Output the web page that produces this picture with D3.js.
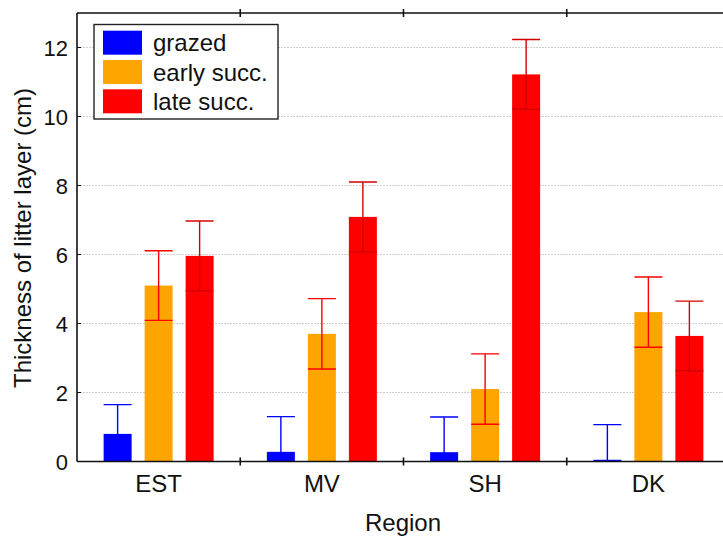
<!DOCTYPE html>
<html>
<head>
<meta charset="utf-8">
<script src="https://cdn.jsdelivr.net/npm/d3@7"></script>
<style>
  body { margin: 0; background: #fff; }
  svg { display: block; font-family: "Liberation Sans", Arial, sans-serif; }
</style>
</head>
<body>
<div id="chart"></div>
<script>
// data
const regions = ["EST", "MV", "SH", "DK"];
const seriesNames = ["grazed", "early succ.", "late succ."];
const grazed = [0.80, 0.28, 0.27, 0.05];
const grazedErr = [0.85, 1.02, 1.02, 1.02];
const early = [5.10, 3.70, 2.10, 4.33];
const earlyErr = [1.01, 1.02, 1.02, 1.02];
const late = [5.96, 7.09, 11.22, 3.64];
const lateErr = [1.01, 1.01, 1.01, 1.01];
const yTicks = [0, 2, 4, 6, 8, 10, 12];

// setting up constants
const FRAME_WIDTH = 723;
const FRAME_HEIGHT = 536;
const MARGINS = {left: 77, right: -7, top: 13, bottom: 74.5};

const FILL = ["#0000ff", "#ffa500", "#ff0000"];
const ERR_COLOR = ["#0000ff", "#ff0000", "#d40000"];

const svg = d3.select("#chart")
    .append("svg")
    .attr("width", FRAME_WIDTH)
    .attr("height", FRAME_HEIGHT);

const x = d3.scaleBand()
    .domain(regions)
    .range([MARGINS.left, FRAME_WIDTH - MARGINS.right]);

const xSub = d3.scaleBand()
    .domain(seriesNames)
    .range([x.bandwidth() / 2 - 68, x.bandwidth() / 2 + 68])
    .padding(13 / 41);

const y = d3.scaleLinear()
    .domain([0, 13])
    .range([FRAME_HEIGHT - MARGINS.bottom, MARGINS.top]);

// clip for error bars that go below zero
svg.append("clipPath").attr("id", "plotclip")
  .append("rect")
    .attr("x", MARGINS.left)
    .attr("y", MARGINS.top)
    .attr("width", FRAME_WIDTH)
    .attr("height", y(0) - MARGINS.top);

// dotted grid
svg.append("g")
  .selectAll("line")
  .data(yTicks.filter(d => d > 0))
  .enter().append("line")
    .attr("x1", MARGINS.left)
    .attr("x2", FRAME_WIDTH)
    .attr("y1", d => y(d))
    .attr("y2", d => y(d))
    .attr("stroke", "#cfcfcf")
    .attr("stroke-width", 1)
    .attr("stroke-dasharray", "2,1");

// build rows for the bars
const values = [grazed, early, late];
const errors = [grazedErr, earlyErr, lateErr];
const rows = [];
seriesNames.forEach((s, i) => {
  regions.forEach((r, j) => {
    rows.push({region: r, series: s, idx: i, value: values[i][j], err: errors[i][j]});
  });
});

// bars
svg.append("g")
  .selectAll("rect")
  .data(rows)
  .enter().append("rect")
    .attr("x", d => x(d.region) + xSub(d.series))
    .attr("y", d => y(d.value))
    .attr("width", xSub.bandwidth())
    .attr("height", d => y(0) - y(d.value))
    .attr("fill", d => FILL[d.idx]);

// error bars
const eb = svg.append("g")
    .attr("clip-path", "url(#plotclip)")
  .selectAll("g")
  .data(rows)
  .enter().append("g")
    .attr("stroke", d => ERR_COLOR[d.idx])
    .attr("stroke-width", 1.4)
    .attr("fill", "none");

eb.append("line")
    .attr("x1", d => x(d.region) + xSub(d.series) + xSub.bandwidth() / 2)
    .attr("x2", d => x(d.region) + xSub(d.series) + xSub.bandwidth() / 2)
    .attr("y1", d => y(d.value - d.err))
    .attr("y2", d => y(d.value + d.err));

eb.selectAll(".cap")
  .data(d => [d.value - d.err, d.value + d.err].map(v => ({d: d, v: v})))
  .enter().append("line")
    .attr("class", "cap")
    .attr("x1", c => x(c.d.region) + xSub(c.d.series))
    .attr("x2", c => x(c.d.region) + xSub(c.d.series) + xSub.bandwidth())
    .attr("y1", c => y(c.v))
    .attr("y2", c => y(c.v));

// spines
const axisColor = "#111";
svg.append("line")
    .attr("x1", MARGINS.left).attr("x2", MARGINS.left)
    .attr("y1", MARGINS.top).attr("y2", y(0))
    .attr("stroke", axisColor).attr("stroke-width", 1.6);
svg.append("line")
    .attr("x1", MARGINS.left).attr("x2", FRAME_WIDTH)
    .attr("y1", y(0)).attr("y2", y(0))
    .attr("stroke", axisColor).attr("stroke-width", 1.6);
svg.append("line")
    .attr("x1", MARGINS.left).attr("x2", FRAME_WIDTH)
    .attr("y1", MARGINS.top).attr("y2", MARGINS.top)
    .attr("stroke", axisColor).attr("stroke-width", 1.6);

// x separator ticks, crossing top and bottom spines
const seps = regions.slice(1).map(r => x(r));
[MARGINS.top, y(0)].forEach(yy => {
  svg.append("g")
    .selectAll("line")
    .data(seps)
    .enter().append("line")
      .attr("x1", d => d).attr("x2", d => d)
      .attr("y1", yy - 4).attr("y2", yy + 4)
      .attr("stroke", axisColor).attr("stroke-width", 1.6);
});

// y axis ticks (inward) and labels
svg.append("g")
  .selectAll("line")
  .data(yTicks)
  .enter().append("line")
    .attr("x1", MARGINS.left).attr("x2", MARGINS.left + 4)
    .attr("y1", d => y(d)).attr("y2", d => y(d))
    .attr("stroke", axisColor).attr("stroke-width", 1);

svg.append("g")
  .selectAll("text")
  .data(yTicks)
  .enter().append("text")
    .attr("x", 68)
    .attr("y", d => y(d) + 8)
    .attr("text-anchor", "end")
    .attr("font-size", 22)
    .attr("fill", "#111")
    .text(d => d);

// x labels
svg.append("g")
  .selectAll("text")
  .data(regions)
  .enter().append("text")
    .attr("x", d => x(d) + x.bandwidth() / 2)
    .attr("y", 491.5)
    .attr("text-anchor", "middle")
    .attr("font-size", 24)
    .attr("fill", "#111")
    .text(d => d);

// axis titles
svg.append("text")
    .attr("x", 403)
    .attr("y", 531)
    .attr("text-anchor", "middle")
    .attr("font-size", 24)
    .attr("fill", "#111")
    .text("Region");

svg.append("text")
    .attr("transform", "translate(31,238) rotate(-90)")
    .attr("text-anchor", "middle")
    .attr("font-size", 24)
    .attr("fill", "#111")
    .text("Thickness of litter layer (cm)");

// legend
const legend = svg.append("g");
legend.append("rect")
    .attr("x", 94).attr("y", 24.5)
    .attr("width", 184).attr("height", 94.5)
    .attr("fill", "#fff")
    .attr("stroke", "#222").attr("stroke-width", 1.4);

const items = legend.selectAll("g.item")
  .data(seriesNames)
  .enter().append("g")
    .attr("class", "item")
    .attr("transform", (d, i) => "translate(103," + (30.7 + i * 29.3) + ")");

items.append("rect")
    .attr("width", 39).attr("height", 24)
    .attr("fill", (d, i) => FILL[i]);

items.append("text")
    .attr("x", 50)
    .attr("y", 12 + 8.6)
    .attr("font-size", 24)
    .attr("fill", "#111")
    .text(d => d);
</script>
</body>
</html>
